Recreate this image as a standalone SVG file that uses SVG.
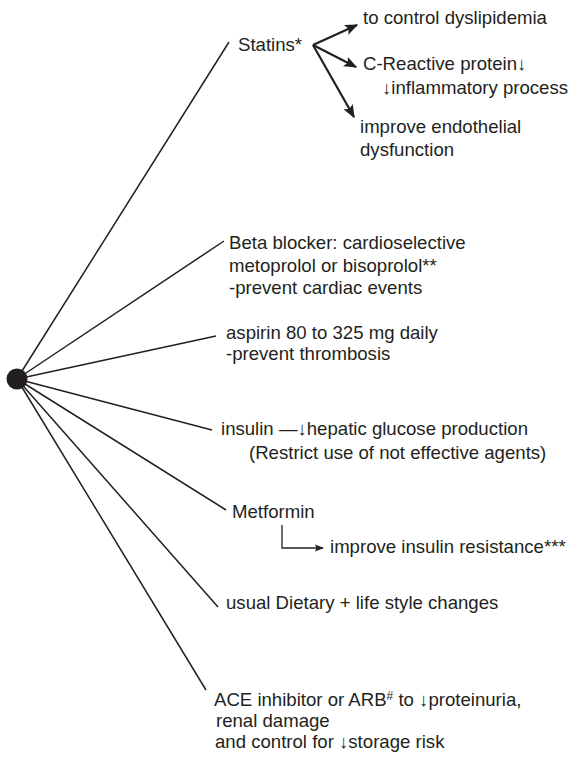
<svg xmlns="http://www.w3.org/2000/svg" width="574" height="770" viewBox="0 0 574 770">
<style>
text{font-family:"Liberation Sans",Arial,sans-serif;font-size:18.6px;fill:#231f20}
.ln{stroke:#231f20;stroke-width:1.5;fill:none}
.ar{stroke:#231f20;stroke-width:2.2;fill:none}
.br{stroke:#231f20;stroke-width:1.3;fill:none}
</style>
<defs>
<marker id="ah" viewBox="0 0 10 8" refX="9" refY="4" markerWidth="6" markerHeight="4.8" orient="auto" markerUnits="strokeWidth">
<path d="M0,0 L10,4 L0,8 L2,4 z" fill="#231f20"/>
</marker>
<marker id="ah2" viewBox="0 0 10 8" refX="9" refY="4" markerWidth="7" markerHeight="6" orient="auto" markerUnits="strokeWidth">
<path d="M0,0 L10,4 L0,8 L2,4 z" fill="#231f20"/>
</marker>
</defs>
<g id="connectors">
<line class="ln" x1="17" y1="379" x2="229" y2="42"/>
<line class="ln" x1="17" y1="379" x2="224" y2="241"/>
<line class="ln" x1="17" y1="379" x2="216" y2="336"/>
<line class="ln" x1="17" y1="379" x2="212" y2="430"/>
<line class="ln" x1="17" y1="379" x2="226" y2="510"/>
<line class="ln" x1="17" y1="379" x2="218" y2="607"/>
<line class="ln" x1="17" y1="379" x2="206" y2="690"/>
<line class="ar" x1="313" y1="45" x2="357" y2="25" marker-end="url(#ah)"/>
<line class="ar" x1="313" y1="45" x2="356" y2="67" marker-end="url(#ah)"/>
<line class="ar" x1="313" y1="45" x2="354" y2="117" marker-end="url(#ah)"/>
<path class="br" d="M282,525 V548 H323" marker-end="url(#ah2)"/>
</g>
<g id="hub"><circle cx="17" cy="379" r="10.5" fill="#231f20"/></g>
<g id="statins">
<text x="238" y="51">Statins*</text>
<text x="363" y="24">to control dyslipidemia</text>
<text x="363" y="70">C-Reactive protein↓</text>
<text x="382" y="94">↓inflammatory process</text>
<text x="360" y="133">improve endothelial</text>
<text x="360" y="156">dysfunction</text>
</g>
<g id="beta">
<text x="229" y="249">Beta blocker: cardioselective</text>
<text x="229" y="272">metoprolol or bisoprolol**</text>
<text x="229" y="294">-prevent cardiac events</text>
</g>
<g id="aspirin">
<text x="226" y="339">aspirin 80 to 325 mg daily</text>
<text x="226" y="360">-prevent thrombosis</text>
</g>
<g id="insulin">
<text x="221" y="435">insulin —↓hepatic glucose production</text>
<text x="249" y="459">(Restrict use of not effective agents)</text>
</g>
<g id="metformin">
<text x="232" y="518">Metformin</text>
<text x="330" y="553">improve insulin resistance***</text>
</g>
<g id="dietary">
<text x="226" y="609">usual Dietary + life style changes</text>
</g>
<g id="ace">
<text x="214" y="706">ACE inhibitor or ARB<tspan dy="-6" font-size="12">#</tspan><tspan dy="6"> to ↓proteinuria,</tspan></text>
<text x="216" y="727">renal damage</text>
<text x="215" y="748">and control for ↓storage risk</text>
</g>
</svg>
